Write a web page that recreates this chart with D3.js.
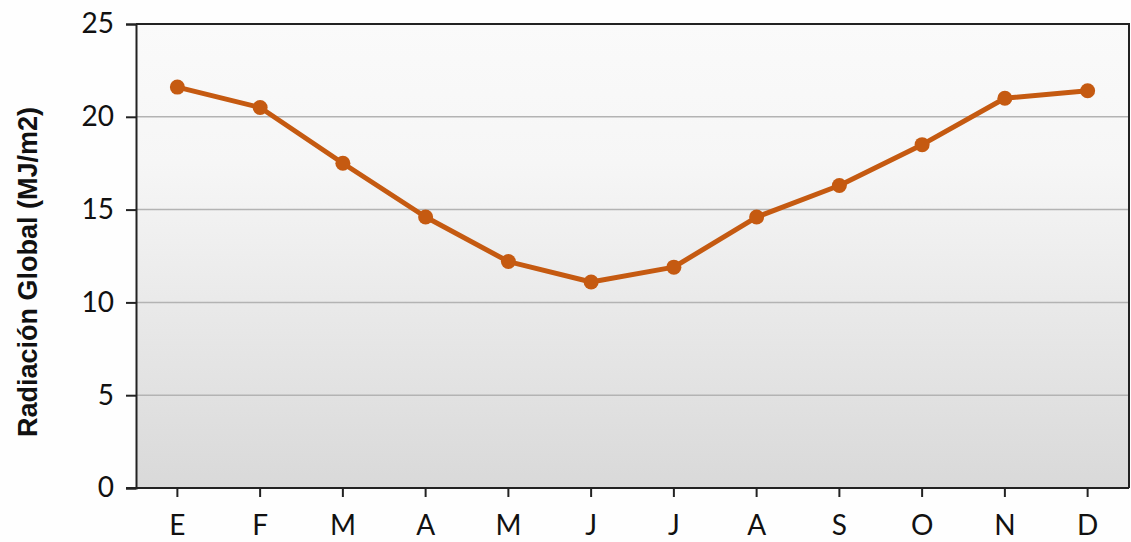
<!DOCTYPE html>
<html>
<head>
<meta charset="utf-8">
<script src="https://cdn.jsdelivr.net/npm/d3@7/dist/d3.min.js"></script>
<style>
  html, body { margin: 0; padding: 0; background: #fefefe; }
  svg { display: block; }
</style>
</head>
<body>
<div id="chart"></div>
<script>
// Monthly global radiation (MJ/m2)
const months = ["E", "F", "M", "A", "M", "J", "J", "A", "S", "O", "N", "D"]
const radiation = [21.6, 20.5, 17.5, 14.6, 12.2, 11.1, 11.9, 14.6, 16.3, 18.5, 21.0, 21.4]
const yTicks = [0, 5, 10, 15, 20, 25]

const W = 1131, H = 542
const margin = { top: 24, right: 2, bottom: 54, left: 136 }
const FONT = "Lato, 'Open Sans', sans-serif"
const TITLE_FONT = "'Liberation Sans', Arial, sans-serif"
const LINE = "#c55a11"

const svg = d3.select("#chart").append("svg")
  .attr("width", W)
  .attr("height", H)

const defs = svg.append("defs")
const grad = defs.append("linearGradient")
  .attr("id", "plotbg")
  .attr("x1", 0).attr("y1", 0).attr("x2", 0).attr("y2", 1)
grad.append("stop").attr("offset", "0%").attr("stop-color", "#fafafa")
grad.append("stop").attr("offset", "30%").attr("stop-color", "#f6f6f6")
grad.append("stop").attr("offset", "100%").attr("stop-color", "#d9d9d9")

const iw = W - margin.left - margin.right
const ih = H - margin.top - margin.bottom

const x = d3.scaleBand()
  .domain(d3.range(months.length))
  .range([margin.left, margin.left + iw])

const y = d3.scaleLinear()
  .domain([0, 25])
  .range([margin.top + ih, margin.top])

// plot background
svg.append("rect")
  .attr("x", margin.left).attr("y", margin.top)
  .attr("width", iw).attr("height", ih)
  .attr("fill", "url(#plotbg)")

// gridlines
svg.append("g")
  .selectAll("line")
  .data(yTicks.filter(t => t > 0 && t < 25))
  .join("line")
  .attr("x1", margin.left).attr("x2", margin.left + iw)
  .attr("y1", d => y(d)).attr("y2", d => y(d))
  .attr("stroke", "#b3b3b3")
  .attr("stroke-width", 1.5)

// frame (top + right)
svg.append("path")
  .attr("d", `M${margin.left},${margin.top}H${margin.left + iw}V${margin.top + ih}`)
  .attr("fill", "none")
  .attr("stroke", "#222")
  .attr("stroke-width", 2)

// y axis
const yAxis = svg.append("g")
  .attr("transform", `translate(${margin.left},0)`)
  .call(d3.axisLeft(y).tickValues(yTicks).tickSize(10).tickPadding(12))
yAxis.select(".domain").attr("stroke", "#222").attr("stroke-width", 2)
yAxis.selectAll(".tick line").attr("stroke", "#222").attr("stroke-width", 2)
yAxis.selectAll("text")
  .attr("font-family", FONT)
  .attr("font-size", 28)
  .attr("fill", "#111")

// x axis
const xAxis = svg.append("g")
  .attr("transform", `translate(0,${margin.top + ih})`)
  .call(d3.axisBottom(x).tickFormat(i => months[i]).tickSize(9).tickPadding(18))
xAxis.select(".domain").attr("stroke", "#222").attr("stroke-width", 2)
  .attr("d", `M${margin.left - 10},0H${margin.left + iw}`)
xAxis.selectAll(".tick line").attr("stroke", "#222").attr("stroke-width", 2)
xAxis.selectAll("text")
  .attr("font-family", FONT)
  .attr("font-size", 28)
  .attr("fill", "#111")

// y axis title
svg.append("text")
  .attr("transform", `translate(37,${272}) rotate(-90)`)
  .attr("text-anchor", "middle")
  .attr("font-family", TITLE_FONT)
  .attr("font-weight", "bold")
  .attr("font-size", 27)
  .attr("fill", "#111")
  .text("Radiación Global (MJ/m2)")

// line + markers
const line = d3.line()
  .x((d, i) => x(i) + x.bandwidth() / 2)
  .y(d => y(d))

svg.append("path")
  .datum(radiation)
  .attr("d", line)
  .attr("fill", "none")
  .attr("stroke", LINE)
  .attr("stroke-width", 5)
  .attr("stroke-linejoin", "round")

svg.append("g")
  .selectAll("circle")
  .data(radiation)
  .join("circle")
  .attr("cx", (d, i) => x(i) + x.bandwidth() / 2)
  .attr("cy", d => y(d))
  .attr("r", 7.5)
  .attr("fill", LINE)
</script>
</body>
</html>
